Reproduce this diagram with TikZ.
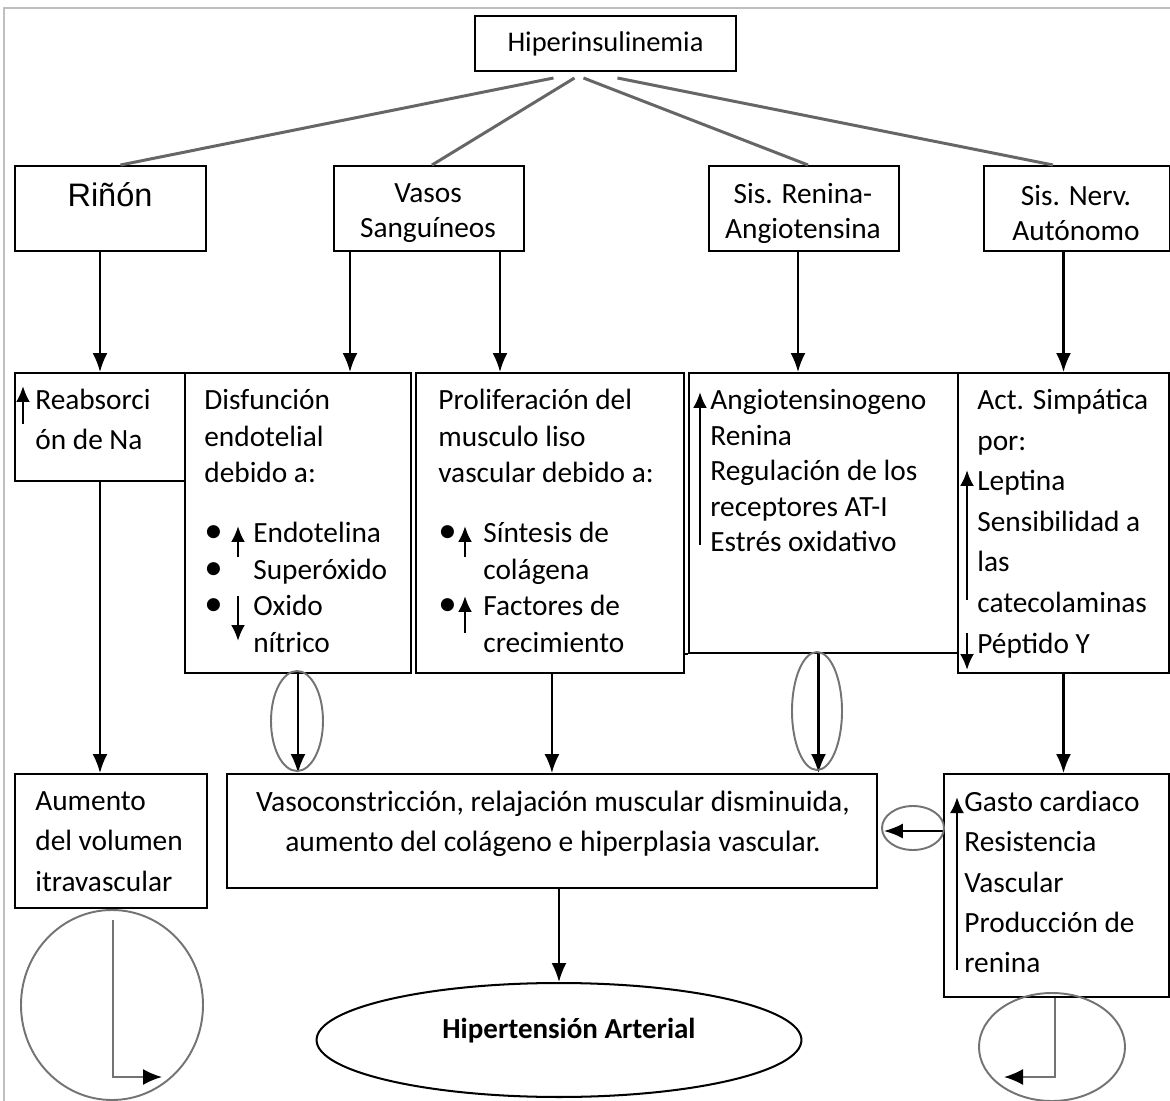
\documentclass[tikz,border=0pt]{standalone}
\usepackage{fontspec}
\setmainfont{Carlito}
\newfontfamily\arialfont{Liberation Sans}
\usetikzlibrary{arrows.meta,shapes.geometric}

\newcommand{\bala}[1][0.98cm]{\makebox[#1][l]{\fontsize{21}{21}\selectfont\textbullet}}

\tikzset{
  caja/.style={draw, line width=1.15pt, anchor=north west, inner sep=0pt},
  texto/.style={anchor=north west, align=left, inner sep=0pt},
  titulo/.style={align=center, inner sep=0pt, font=\fontsize{16.7}{20}\selectfont},
  flecha/.style={line width=1.15pt, ->},
  flechita/.style={line width=1.4pt, -{Latex[length=3.2mm,width=2.8mm]}},
  rama/.style={draw=black!60, line width=1.7pt},
  lazo/.style={draw=black!55, line width=1.1pt},
  lazoflecha/.style={lazo, -{Latex[length=3.8mm,width=3.2mm,black]}},
}

\begin{document}
\begin{tikzpicture}[x=0.02cm, y=-0.02cm, >={Latex[length=3.8mm,width=3mm]}]
\useasboundingbox (0,0) rectangle (1170,1101);
% marco
\draw[black!25, line width=1pt] (4,1101) -- (4,8) -- (1170,8);

% nivel 1
\node[caja, minimum width=5.22cm, minimum height=1.1cm] (hiper) at (474,15) {};
\node[titulo, font=\fontsize{16.2}{20}\selectfont] (thiper) at (hiper.center) {Hiperinsulinemia};

% nivel 2
\node[caja, minimum width=3.82cm, minimum height=1.7cm] (rinon) at (14,165) {};
\node[caja, minimum width=3.8cm, minimum height=1.7cm] (vasos) at (333,165) {};
\node[caja, minimum width=3.8cm, minimum height=1.7cm] (renina) at (708,165) {};
\node[caja, minimum width=3.72cm, minimum height=1.7cm] (nerv) at (983,165) {};
\node[inner sep=0pt, font=\arialfont\fontsize{18.5}{20}\selectfont] (trinon) at (110,195) {Riñón};
\node[titulo] (tvasos) at (428,213) {Vasos\\Sanguíneos};
\node[titulo] (trenina) at (803,213) {Sis. Renina-\\Angiotensina};
\node[titulo] (tnerv) at (1076,213) {Sis. Nerv.\\Autónomo};

\draw[rama] ([shift={(-52,6)}]hiper.south) -- ([shift={(10,0)}]rinon.north);
\draw[rama] ([shift={(-31,6)}]hiper.south) -- ([shift={(3,0)}]vasos.north);
\draw[rama] ([shift={(-22,6)}]hiper.south) -- ([shift={(4,0)}]renina.north);
\draw[rama] ([shift={(12,6)}]hiper.south) -- ([shift={(-24,0)}]nerv.north);

% nivel 3
\node[caja, minimum width=3.4cm, minimum height=2.16cm] (reab) at (14,372) {};
\node[caja, minimum width=4.52cm, minimum height=6cm] (disf) at (184,372) {};
\node[caja, minimum width=5.36cm, minimum height=6cm] (prolif) at (415,372) {};
\node[caja, minimum width=5.38cm, minimum height=5.6cm] (angio) at (688,372) {};
\node[caja, minimum width=4.22cm, minimum height=6cm] (simp) at (957,372) {};
\draw[line width=1.15pt] (prolif.south east |- angio.south) -- (angio.south west);

\node[texto, font=\fontsize{16.7}{22.8}\selectfont] (treab) at (35,389) {Reabsorci\\ón de Na};
\node[texto, font=\fontsize{16.7}{20.8}\selectfont] (tdisf) at (204,389)
  {Disfunción\\endotelial\\debido a:\\[0.47cm]\bala Endotelina\\\bala Superóxido\\\bala Oxido\\\hspace*{0.98cm}nítrico};
\node[texto, font=\fontsize{16.7}{20.8}\selectfont] (tprolif) at (438,389)
  {Proliferación del\\musculo liso\\vascular debido a:\\[0.47cm]\bala[0.9cm]Síntesis de\\\hspace*{0.9cm}colágena\\\bala[0.9cm]Factores de\\\hspace*{0.9cm}crecimiento};
\node[texto, font=\fontsize{16.7}{20.2}\selectfont] (tangio) at (710,389)
  {Angiotensinogeno\\Renina\\Regulación de los\\receptores AT-I\\Estrés oxidativo};
\node[texto, font=\fontsize{16.7}{23.1}\selectfont] (tsimp) at (977,389)
  {Act. Simpática\\por:\\Leptina\\Sensibilidad a\\las\\catecolaminas\\Péptido Y};

\draw[flechita] (23,424) -- (23,386);
\draw[flechita] (238,557) -- (238,526);
\draw[flechita] (238,596) -- (238,641);
\draw[flechita] (465,557) -- (465,526);
\draw[flechita] (465,633) -- (465,596);
\draw[flechita] (700,545) -- (700,392);
\draw[flechita] (967,600) -- (967,470);
\draw[flechita] (967,633) -- (967,670);

\draw[flecha] (reab.north |- rinon.south) -- (reab.north);
\draw[flecha] ([xshift=0.34cm]vasos.south west) -- ([xshift=0.34cm]vasos.south west |- disf.north);
\draw[flecha] ([xshift=-0.5cm]vasos.south east) -- ([xshift=-0.5cm]vasos.south east |- prolif.north);
\draw[flecha] ([xshift=-0.12cm]renina.south) -- ([xshift=-0.12cm]renina.south |- angio.north);
\draw[flecha] (simp.north |- nerv.south) -- (simp.north);

% nivel 4
\node[caja, minimum width=3.84cm, minimum height=2.68cm] (aumento) at (14,773) {};
\node[caja, minimum width=13cm, minimum height=2.28cm] (vasoc) at (226,773) {};
\node[caja, minimum width=4.5cm, minimum height=4.46cm] (gasto) at (943,773) {};

\node[texto, font=\fontsize{16.7}{23}\selectfont] (taumento) at (35,791)
  {Aumento\\del volumen\\itravascular};
\node[anchor=north, align=center, inner sep=0pt, font=\fontsize{16.8}{22.8}\selectfont] (tvasoc) at (553,791)
  {Vasoconstricción, relajación muscular disminuida,\\aumento del colágeno e hiperplasia vascular.};
\node[texto, font=\fontsize{16.7}{22.9}\selectfont] (tgasto) at (964,791)
  {Gasto cardiaco\\Resistencia\\Vascular\\Producción de\\renina};
\draw[flechita] (957,970) -- (957,797);

\draw[flecha] (reab.south) -- (reab.south |- aumento.north);
\draw[flecha] (disf.south) -- (disf.south |- vasoc.north);
\draw[lazo] (297,721) ellipse [x radius=26, y radius=50];
\draw[flecha] (prolif.south -| vasoc.north) -- (vasoc.north);
\draw[flecha] ([xshift=-0.1cm]angio.south) -- ([xshift=-0.1cm]angio.south |- vasoc.north);
\draw[lazo] (817,711) ellipse [x radius=25, y radius=59];
\draw[flecha] (simp.south) -- (simp.south |- gasto.north);
\draw[flecha] (gasto.west |- vasoc.east) -- ([xshift=0.12cm]vasoc.east);
\draw[lazo] (913,828) ellipse [x radius=31, y radius=22];

% final
\node[draw, ellipse, line width=1.15pt, minimum width=9.7cm, minimum height=2.28cm, inner sep=0pt] (hta) at (559,1040) {};
\node[inner sep=0pt, font=\bfseries\fontsize{16.5}{20}\selectfont] (thta) at (569,1031) {Hipertensión Arterial};
\draw[flecha] (hta.north |- vasoc.south) -- (hta.north);

\coordinate (finizq) at (162,1077);
\coordinate (finder) at (1004,1077);
\draw[lazo] (112,1005) ellipse [x radius=91, y radius=95];
\draw[lazoflecha] ([shift={(2,11)}]aumento.south) |- (finizq);
\draw[lazo] (1052,1047) ellipse [x radius=73, y radius=54];
\draw[lazoflecha] ([xshift=-0.03cm]gasto.south) |- (finder);
\end{tikzpicture}
\end{document}
